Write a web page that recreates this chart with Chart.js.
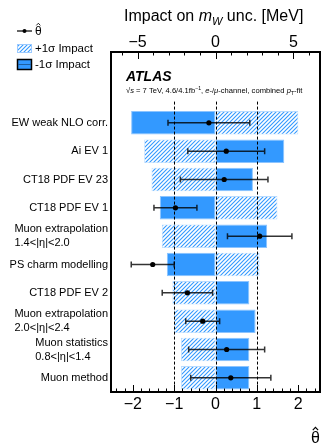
<!DOCTYPE html>
<html><head><meta charset="utf-8">
<script src="https://cdn.jsdelivr.net/npm/chart.js@4/dist/chart.umd.min.js"></script>
<style>html,body{margin:0;padding:0;background:#fff}#wrap{width:324px;height:446px;position:relative}</style>
</head><body><div id="wrap"><canvas id="c" width="324" height="446"></canvas></div>
<script>
// Ranked nuisance parameters (top to bottom)
const parameters = [
  ['EW weak NLO corr.'], ['Ai EV 1'], ['CT18 PDF EV 23'], ['CT18 PDF EV 1'],
  ['Muon extrapolation', '1.4<|η|<2.0'], ['PS charm modelling'], ['CT18 PDF EV 2'],
  ['Muon extrapolation', '2.0<|η|<2.4'], ['Muon statistics', '0.8<|η|<1.4'], ['Muon method']
];
// Impact on m_W in MeV for +1σ (hatched) and -1σ (solid) shifts
const impactUp   = [5.31, -4.57, -4.10, 3.97, -3.44, 2.82, -2.76, -2.65, -2.21, -2.21];
const impactDown = [-5.41, 4.41, 2.40, -3.57, 3.31, -3.12, 2.17, 2.57, 2.17, 2.17];
// Pulls and their uncertainties
const thetaHat = [-0.16, 0.26, 0.21, -0.97, 1.07, -1.52, -0.68, -0.31, 0.27, 0.37];
const thetaErr = [0.99, 0.93, 1.06, 0.52, 0.78, 0.52, 0.61, 0.41, 0.92, 0.97];
const impactTicks = [-5, 0, 5];
const thetaTicks = [-2, -1, 0, 1, 2];
const pullLines = [-1, 0, 1];
const headerRows = 2; // empty rows above the ranking, room for the ATLAS label

const BLUE = '#3399ff';
const FONT = '"Liberation Sans", Arial, Helvetica, sans-serif';
const pad = new Array(headerRows).fill(null);
const rowLabels = pad.map(() => '').concat(parameters.map(p => p.join(' ')));

function hatch(color) {
  const s = 4, c = document.createElement('canvas');
  c.width = s; c.height = s;
  const g = c.getContext('2d');
  g.fillStyle = '#fff'; g.fillRect(0, 0, s, s);
  g.strokeStyle = color; g.lineWidth = 1.1;
  g.beginPath();
  g.moveTo(-1, s + 1); g.lineTo(s + 1, -1);
  g.moveTo(-1, 1); g.lineTo(1, -1);
  g.moveTo(s - 1, s + 1); g.lineTo(s + 1, s - 1);
  g.stroke();
  return g.createPattern(c, 'repeat');
}
const hatchFill = hatch(BLUE);
const minus = v => String(v).replace('-', '\u2212');

function drawTheta(ctx, x, baseline, size) {
  // θ with a hat accent
  ctx.font = size + 'px ' + FONT;
  ctx.textAlign = 'left'; ctx.textBaseline = 'alphabetic';
  ctx.fillText('θ', x, baseline);
  const w = ctx.measureText('θ').width;
  const top = baseline - size * 0.78;
  ctx.beginPath();
  ctx.lineWidth = size / 14;
  ctx.moveTo(x + w * 0.2, top - size * 0.02);
  ctx.lineTo(x + w * 0.5, top - size * 0.2);
  ctx.lineTo(x + w * 0.8, top - size * 0.02);
  ctx.stroke();
}

function drawRuns(ctx, runs, x, baseline) {
  for (const r of runs) {
    ctx.font = r.f;
    ctx.fillText(r.t, x, baseline + (r.dy || 0));
    x += ctx.measureText(r.t).width;
  }
  return x;
}

const decor = {
  id: 'decor',
  beforeDatasetDraw(chart, args) {
    if (args.index !== 2) return;
    const ctx = chart.ctx, area = chart.chartArea;
    const xT = chart.scales.xT, y = chart.scales.y;
    ctx.save();
    // dashed reference lines at θ = -1, 0, 1
    ctx.strokeStyle = '#000'; ctx.lineWidth = 1; ctx.setLineDash([3, 2]);
    const yStart = y.getPixelForValue(headerRows - 0.75);
    for (const v of pullLines) {
      const px = Math.round(xT.getPixelForValue(v)) + 0.5;
      ctx.beginPath(); ctx.moveTo(px, yStart); ctx.lineTo(px, area.bottom); ctx.stroke();
    }
    ctx.setLineDash([]);
    // error bars on the pulls
    ctx.strokeStyle = 'rgba(0,0,0,0.8)'; ctx.lineWidth = 1.5;
    thetaHat.forEach((t, i) => {
      const py = y.getPixelForValue(i + headerRows);
      const x1 = xT.getPixelForValue(t - thetaErr[i]);
      const x2 = xT.getPixelForValue(t + thetaErr[i]);
      ctx.beginPath();
      ctx.moveTo(x1, py); ctx.lineTo(x2, py);
      ctx.moveTo(x1, py - 3); ctx.lineTo(x1, py + 3);
      ctx.moveTo(x2, py - 3); ctx.lineTo(x2, py + 3);
      ctx.stroke();
    });
    ctx.restore();
  },
  afterDraw(chart) {
    const ctx = chart.ctx, a = chart.chartArea;
    const xI = chart.scales.xI, xT = chart.scales.xT, y = chart.scales.y;
    ctx.save();
    ctx.fillStyle = '#000'; ctx.strokeStyle = '#000';
    // frame
    ctx.lineWidth = 2;
    ctx.strokeRect(a.left, a.top, a.right - a.left, a.bottom - a.top);
    // inward ticks
    ctx.lineWidth = 1;
    for (let v = -6; v <= 6; v++) {
      const px = Math.round(xI.getPixelForValue(v)) + 0.5;
      const len = v % 5 === 0 ? 7 : 3.5;
      ctx.beginPath(); ctx.moveTo(px, a.top); ctx.lineTo(px, a.top + len); ctx.stroke();
    }
    for (let k = -12; k <= 12; k++) {
      const px = Math.round(xT.getPixelForValue(k / 5)) + 0.5;
      const len = k % 5 === 0 ? 7 : 3.5;
      ctx.beginPath(); ctx.moveTo(px, a.bottom); ctx.lineTo(px, a.bottom - len); ctx.stroke();
    }
    // parameter names
    ctx.font = '11px ' + FONT; ctx.textAlign = 'left'; ctx.textBaseline = 'middle';
    parameters.forEach((lines, i) => {
      const cy = y.getPixelForValue(i + headerRows);
      const w = Math.max(...lines.map(l => ctx.measureText(l).width));
      const x0 = a.left - 3 - w;
      lines.forEach((l, j) => ctx.fillText(l, x0, cy + (j - (lines.length - 1) / 2) * 14));
    });
    // top axis title
    ctx.textBaseline = 'alphabetic';
    drawRuns(ctx, [
      { t: 'Impact on ', f: '16px ' + FONT },
      { t: 'm', f: 'italic 16px ' + FONT },
      { t: 'W', f: 'italic 11px ' + FONT, dy: 4 },
      { t: ' unc. [MeV]', f: '16px ' + FONT }
    ], 124, 21);
    // bottom axis title
    drawTheta(ctx, 311, 443, 16);
    // ATLAS label
    ctx.font = 'italic bold 14px ' + FONT;
    ctx.fillText('ATLAS', 126, 81);
    drawRuns(ctx, [
      { t: '\u221As', f: 'italic 7.6px ' + FONT },
      { t: ' = 7 TeV, 4.6/4.1fb', f: '7.6px ' + FONT },
      { t: '\u22121', f: '5.2px ' + FONT, dy: -3 },
      { t: ', ', f: '7.6px ' + FONT },
      { t: 'e', f: 'italic 7.6px ' + FONT },
      { t: '-/', f: '7.6px ' + FONT },
      { t: 'μ', f: 'italic 7.6px ' + FONT },
      { t: '-channel, combined ', f: '7.6px ' + FONT },
      { t: 'p', f: 'italic 7.6px ' + FONT },
      { t: 'T', f: '5.2px ' + FONT, dy: 1.8 },
      { t: '-fit', f: '7.6px ' + FONT }
    ], 126, 93);
    // legend
    ctx.lineWidth = 1.2;
    ctx.beginPath(); ctx.moveTo(17, 31); ctx.lineTo(32, 31); ctx.stroke();
    ctx.beginPath(); ctx.arc(24.5, 31, 2, 0, Math.PI * 2); ctx.fill();
    drawTheta(ctx, 35, 35, 12);
    ctx.fillStyle = hatchFill; ctx.fillRect(17, 44, 15, 9);
    ctx.strokeStyle = '#9ccaff'; ctx.lineWidth = 1; ctx.strokeRect(17.5, 44.5, 14, 8);
    ctx.fillStyle = BLUE; ctx.fillRect(17, 59, 15, 11);
    ctx.strokeStyle = '#000'; ctx.lineWidth = 1.5; ctx.strokeRect(17.5, 59.5, 14, 10);
    ctx.lineWidth = 1; ctx.strokeStyle = '#1f5f9f';
    ctx.beginPath(); ctx.moveTo(18, 64.5); ctx.lineTo(31, 64.5); ctx.stroke();
    ctx.fillStyle = '#000'; ctx.font = '11.5px ' + FONT; ctx.textBaseline = 'middle';
    ctx.fillText('+1σ Impact', 35, 49);
    ctx.fillText('-1σ Impact', 35, 65);
    ctx.restore();
  }
};

new Chart(document.getElementById('c'), {
  type: 'bar',
  data: {
    labels: rowLabels,
    datasets: [
      { label: '+1σ Impact', data: pad.concat(impactUp), xAxisID: 'xI', yAxisID: 'y',
        backgroundColor: hatchFill, borderColor: '#b8dbff', borderWidth: 0.8, borderSkipped: false,
        grouped: false, barPercentage: 0.83, categoryPercentage: 1, order: 1 },
      { label: '-1σ Impact', data: pad.concat(impactDown), xAxisID: 'xI', yAxisID: 'y',
        backgroundColor: BLUE, borderColor: '#8cc4ff', borderWidth: 1, borderSkipped: false,
        grouped: false, barPercentage: 0.83, categoryPercentage: 1, order: 1 },
      { type: 'line', label: 'θ', data: pad.concat(thetaHat), xAxisID: 'xT', yAxisID: 'y',
        showLine: false, pointRadius: 2.6, pointBackgroundColor: '#000', pointBorderColor: '#000',
        pointBorderWidth: 0, order: 0 }
    ]
  },
  options: {
    indexAxis: 'y',
    responsive: false,
    animation: false,
    devicePixelRatio: 1,
    layout: { padding: { left: 0, right: 2, top: 0, bottom: 0 } },
    plugins: { legend: { display: false }, tooltip: { enabled: false } },
    scales: {
      y: {
        type: 'category', offset: true,
        grid: { display: false, drawTicks: false }, border: { display: false },
        ticks: { display: false },
        afterFit: s => { s.width = 111; }
      },
      xI: {
        type: 'linear', position: 'top', min: -6.7, max: 6.7,
        grid: { display: false, drawTicks: false }, border: { display: false },
        ticks: { color: '#000', font: { size: 16, family: FONT }, padding: 0, maxRotation: 0,
                 callback: v => minus(v) },
        afterBuildTicks: s => { s.ticks = impactTicks.map(v => ({ value: v })); },
        afterFit: s => { s.height = 52; }
      },
      xT: {
        type: 'linear', position: 'bottom', min: -2.53, max: 2.53,
        grid: { display: false, drawTicks: false }, border: { display: false },
        ticks: { color: '#000', font: { size: 16, family: FONT }, padding: 3, maxRotation: 0,
                 callback: v => minus(v) },
        afterBuildTicks: s => { s.ticks = thetaTicks.map(v => ({ value: v })); },
        afterFit: s => { s.height = 54; }
      }
    }
  },
  plugins: [decor]
});
</script>
</body></html>
